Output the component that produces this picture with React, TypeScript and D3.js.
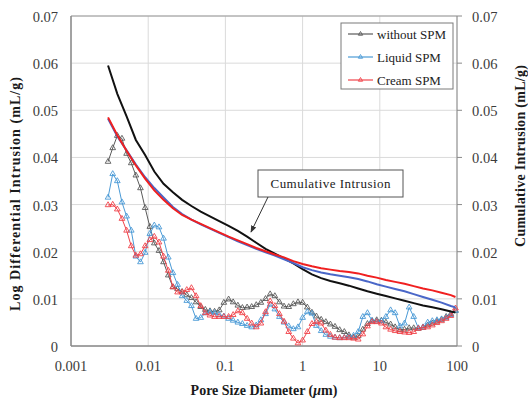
import React from "react";
import * as d3 from "d3";

// Pore diameters (µm) for the log differential intrusion series
const diam = [0.00302, 0.00347, 0.00398, 0.00457, 0.00525, 0.00603, 0.00692, 0.00794, 0.00912, 0.0105,
  0.012, 0.0138, 0.0158, 0.0182, 0.0209, 0.024, 0.0275, 0.0316, 0.0363, 0.0417,
  0.0479, 0.055, 0.0631, 0.0724, 0.0832, 0.0955, 0.11, 0.126, 0.145, 0.166,
  0.191, 0.219, 0.251, 0.288, 0.331, 0.38, 0.437, 0.501, 0.575, 0.661,
  0.759, 0.871, 1.0, 1.15, 1.32, 1.51, 1.74, 2.0, 2.29, 2.63,
  3.02, 3.47, 3.98, 4.57, 5.25, 6.03, 6.92, 7.94, 9.12, 10.5,
  12.0, 13.8, 15.8, 18.2, 20.9, 24.0, 27.5, 31.6, 36.3, 41.7,
  47.9, 55.0, 63.1, 72.4, 83.2, 95.5];

const logWithout = [0.0391, 0.042, 0.0446, 0.044, 0.0408, 0.0388, 0.0362, 0.0335, 0.0293, 0.0253,
  0.0218, 0.0202, 0.0178, 0.015, 0.0125, 0.0121, 0.0115, 0.0108, 0.0102, 0.0093,
  0.0083, 0.0077, 0.0074, 0.0073, 0.0076, 0.0092, 0.0099, 0.0093, 0.0086, 0.0081,
  0.0082, 0.0083, 0.0087, 0.0092, 0.01, 0.011, 0.0106, 0.0093, 0.0084, 0.0083,
  0.0089, 0.0093, 0.0092, 0.0082, 0.0071, 0.0063, 0.0056, 0.0051, 0.0046, 0.0041,
  0.0034, 0.003, 0.0023, 0.0018, 0.0021, 0.0035, 0.0047, 0.0053, 0.0055, 0.0054,
  0.005, 0.0046, 0.004, 0.0034, 0.0035, 0.0038, 0.0038, 0.0037, 0.0039, 0.0044,
  0.0048, 0.0052, 0.0056, 0.0062, 0.0068, 0.0075];

const logLiquid = [0.0315, 0.0365, 0.035, 0.0305, 0.0275, 0.0245, 0.019, 0.0178, 0.0198, 0.0238,
  0.0256, 0.0252, 0.0228, 0.0188, 0.0155, 0.013, 0.0106, 0.0096, 0.0085, 0.0058,
  0.006, 0.007, 0.0072, 0.007, 0.0066, 0.0063, 0.0058, 0.0054, 0.005, 0.0047,
  0.0043, 0.004, 0.0044, 0.0055, 0.0068, 0.0088, 0.0078, 0.0062, 0.005, 0.0042,
  0.0036, 0.004, 0.006, 0.0072, 0.0069, 0.0043, 0.0032, 0.0024, 0.002, 0.0018,
  0.0017, 0.0018, 0.0019, 0.0022, 0.003, 0.0062, 0.007, 0.0054, 0.0052, 0.0053,
  0.0062, 0.0076, 0.007, 0.0042, 0.0048, 0.0082, 0.0062, 0.0038, 0.004, 0.005,
  0.0053, 0.0055, 0.0057, 0.006, 0.0066, 0.0075];

const logCream = [0.0299, 0.03, 0.029, 0.027, 0.0245, 0.0212, 0.0192, 0.0195, 0.0212, 0.0225,
  0.0232, 0.022, 0.019, 0.016, 0.0125, 0.0114, 0.0114, 0.0119, 0.0123, 0.0106,
  0.0085, 0.007, 0.0065, 0.0062, 0.0062, 0.0062, 0.0062, 0.0066, 0.0074, 0.007,
  0.0058, 0.0048, 0.004, 0.0048, 0.0072, 0.0095, 0.0085, 0.0068, 0.0052, 0.003,
  0.0016, 0.0006, 0.0012, 0.003, 0.0047, 0.0051, 0.0048, 0.0033, 0.0024, 0.0018,
  0.0017, 0.0017, 0.0017, 0.0016, 0.0014, 0.0025, 0.0042, 0.0051, 0.0051, 0.0048,
  0.004, 0.0035, 0.0032, 0.003, 0.0029, 0.0028, 0.003, 0.0037, 0.0039, 0.004,
  0.0044, 0.0049, 0.0053, 0.0058, 0.0064, 0.008];

// Pore diameters (µm) for the cumulative intrusion curves
const cumDiam = [0.00302, 0.00398, 0.00525, 0.00692, 0.00912, 0.012, 0.0158, 0.0209, 0.0275, 0.0363,
  0.0479, 0.0631, 0.0832, 0.11, 0.145, 0.191, 0.251, 0.331, 0.437, 0.575,
  0.759, 1.0, 1.32, 1.74, 2.29, 3.02, 3.98, 5.25, 6.92, 9.12,
  12.0, 15.8, 20.9, 27.5, 36.3, 47.9, 63.1, 83.2, 95.5];

const cumWithout = [0.0595, 0.0535, 0.0487, 0.0437, 0.0405, 0.037, 0.0344, 0.0326, 0.031, 0.0297,
  0.0285, 0.0275, 0.0265, 0.0255, 0.0244, 0.0232, 0.0219, 0.0206, 0.0196, 0.0186,
  0.0175, 0.0163, 0.0152, 0.0144, 0.0138, 0.0133, 0.0128, 0.0122, 0.0116, 0.0111,
  0.0106, 0.0101, 0.0096, 0.0091, 0.0086, 0.0082, 0.0078, 0.0073, 0.0071];

const cumLiquid = [0.0482, 0.0445, 0.0415, 0.0385, 0.0358, 0.0335, 0.0315, 0.0295, 0.028, 0.0268,
  0.0258, 0.0249, 0.024, 0.0231, 0.0222, 0.0214, 0.0206, 0.0199, 0.0192, 0.0184,
  0.0176, 0.0167, 0.0161, 0.0156, 0.0152, 0.0149, 0.0146, 0.0142, 0.0137, 0.0131,
  0.0126, 0.0121, 0.0116, 0.011, 0.0104, 0.0098, 0.0092, 0.0085, 0.0082];

const cumCream = [0.0485, 0.0447, 0.0414, 0.0383, 0.0355, 0.033, 0.031, 0.0292, 0.0278, 0.0268,
  0.0259, 0.025, 0.0241, 0.0232, 0.0224, 0.0216, 0.0208, 0.0201, 0.0194, 0.0188,
  0.018, 0.0174, 0.0169, 0.0165, 0.0162, 0.0159, 0.0157, 0.0154, 0.0149, 0.0145,
  0.014, 0.0136, 0.0132, 0.0127, 0.0122, 0.0118, 0.0113, 0.0108, 0.0104];

const xTicks = [0.001, 0.01, 0.1, 1, 10, 100];
const xTickLabels = ["0.001", "0.01", "0.1", "1", "10", "100"];
const yTicks = [0, 0.01, 0.02, 0.03, 0.04, 0.05, 0.06, 0.07];
const yTickLabels = ["0", "0.01", "0.02", "0.03", "0.04", "0.05", "0.06", "0.07"];
const seriesNames = ["without SPM", "Liquid SPM", "Cream SPM"];

const W = 528, H = 399;
const M = { left: 71, right: 457, top: 16, bottom: 346 };
const SERIF = "Liberation Serif, serif";

export default function App() {
  const x = d3.scaleLog().domain([0.001, 100]).range([M.left, M.right]);
  const y = d3.scaleLinear().domain([0, 0.07]).range([M.bottom, M.top]);

  const lineGen = d3.line<[number, number]>().x(d => x(d[0])).y(d => y(d[1]));
  const tri = d3.symbol().type(d3.symbolTriangle).size(14)() as string;
  const triSmall = d3.symbol().type(d3.symbolTriangle).size(8)() as string;

  const logSeries = [
    { name: seriesNames[0], vals: logWithout, color: "#5a5a5a" },
    { name: seriesNames[1], vals: logLiquid, color: "#4a9ad6" },
    { name: seriesNames[2], vals: logCream, color: "#f0434a" },
  ];
  const cumSeries = [
    { vals: cumWithout, color: "#111111" },
    { vals: cumLiquid, color: "#4a67c8" },
    { vals: cumCream, color: "#f02020" },
  ];

  const legendX = 341, legendY = 23;

  return (
    <svg width={W} height={H} style={{ display: "block", position: "absolute", left: 0, top: 0 }}>
      <defs>
        <marker id="arrow" viewBox="0 0 10 10" refX="9" refY="5" markerWidth="7" markerHeight="7" orient="auto-start-reverse">
          <path d="M0,1 L10,5 L0,9 z" fill="#333" />
        </marker>
      </defs>
      <rect x={0} y={0} width={W} height={H} fill="#fff" />
      {/* gridlines */}
      {yTicks.map(t => (
        <line key={"gy" + t} x1={M.left} x2={M.right} y1={y(t)} y2={y(t)} stroke="#dadada" strokeWidth={1} />
      ))}
      {xTicks.map(t => (
        <line key={"gx" + t} x1={x(t)} x2={x(t)} y1={M.top} y2={M.bottom} stroke="#dadada" strokeWidth={1} />
      ))}
      {/* frame */}
      <line x1={M.left} x2={M.right} y1={M.top} y2={M.top} stroke="#9a9a9a" strokeWidth={1} />
      <line x1={M.left} x2={M.left} y1={M.top} y2={M.bottom} stroke="#8a8a8a" strokeWidth={1.5} />
      <line x1={M.left} x2={M.right} y1={M.bottom} y2={M.bottom} stroke="#8a8a8a" strokeWidth={1.5} />
      <line x1={M.right} x2={M.right} y1={M.top} y2={M.bottom} stroke="#8a8a8a" strokeWidth={1} />
      {yTicks.map(t => (
        <line key={"rt" + t} x1={M.right} x2={M.right + 5} y1={y(t)} y2={y(t)} stroke="#8a8a8a" strokeWidth={1} />
      ))}

      {/* log differential series */}
      {logSeries.map(s => {
        const pts = diam.map((d, i) => [d, s.vals[i]] as [number, number]);
        return (
          <g key={s.name}>
            <path d={lineGen(pts) || ""} fill="none" stroke={s.color} strokeWidth={1} />
            {pts.map((p, i) => (
              <path key={i} d={tri} transform={`translate(${x(p[0])},${y(p[1])})`} fill="none" stroke={s.color} strokeWidth={0.9} />
            ))}
          </g>
        );
      })}

      {/* cumulative curves */}
      {cumSeries.map((s, k) => {
        const pts = cumDiam.map((d, i) => [d, s.vals[i]] as [number, number]);
        return <path key={"c" + k} d={lineGen(pts) || ""} fill="none" stroke={s.color} strokeWidth={2} />;
      })}

      {/* left tick labels */}
      {yTicks.map((t, i) => (
        <text key={"ly" + t} x={58} y={y(t) + 6} textAnchor="end" fontFamily={SERIF} fontSize={14.5} fill="#3c3c3c">{yTickLabels[i]}</text>
      ))}
      {/* right tick labels */}
      {yTicks.map((t, i) => (
        <text key={"ry" + t} x={472} y={y(t) + 6} textAnchor="start" fontFamily={SERIF} fontSize={14.5} fill="#3c3c3c">{yTickLabels[i]}</text>
      ))}
      {/* x tick labels */}
      {xTicks.map((t, i) => (
        <text key={"xt" + t} x={x(t)} y={371} textAnchor="middle" fontFamily={SERIF} fontSize={14.5} fill="#3c3c3c">{xTickLabels[i]}</text>
      ))}

      {/* axis titles */}
      <text x={264} y={395} textAnchor="middle" fontFamily={SERIF} fontSize={14} fontWeight="bold" fill="#1a1a1a">
        Pore Size Diameter (<tspan fontStyle="italic">μ</tspan>m)
      </text>
      <text transform={`translate(20,194) rotate(-90)`} textAnchor="middle" fontFamily={SERIF} fontSize={14} fontWeight="bold" fill="#1a1a1a"
        textLength={234} lengthAdjust="spacing">
        Log Differential Intrusion (mL/g)
      </text>
      <text transform={`translate(525,156) rotate(-90)`} textAnchor="middle" fontFamily={SERIF} fontSize={14} fontWeight="bold" fill="#1a1a1a"
        textLength={182} lengthAdjust="spacing">
        Cumulative Intrusion (mL/g)
      </text>

      {/* legend */}
      <rect x={legendX} y={legendY} width={112} height={66} fill="#fff" stroke="#7a7a7a" strokeWidth={1} />
      {logSeries.map((s, i) => {
        const cy = legendY + 11 + i * 23;
        return (
          <g key={"lg" + i}>
            <line x1={legendX + 7} x2={legendX + 32} y1={cy} y2={cy} stroke={s.color} strokeWidth={1.2} />
            <path d={triSmall} transform={`translate(${legendX + 19.5},${cy})`} fill="none" stroke={s.color} strokeWidth={0.9} />
            <text x={legendX + 36} y={cy + 4.5} fontFamily={SERIF} fontSize={13} fill="#222">{s.name}</text>
          </g>
        );
      })}

      {/* annotation */}
      <rect x={258} y={170} width={145} height={27} fill="#fff" stroke="#555" strokeWidth={1} />
      <text x={330.5} y={188} textAnchor="middle" fontFamily={SERIF} fontSize={13} fill="#222" textLength={120} lengthAdjust="spacing">
        Cumulative Intrusion
      </text>
      <line x1={268} y1={197} x2={251} y2={232} stroke="#333" strokeWidth={1} markerEnd="url(#arrow)" />
    </svg>
  );
}
